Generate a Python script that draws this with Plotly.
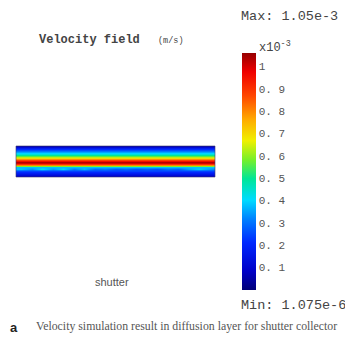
import plotly.graph_objects as go

# vertical velocity profile across the diffusion layer, top -> bottom (x1e-3 m/s)
profile_top_to_bottom = [0.06, 0.17, 0.26, 0.35, 0.44, 0.56, 0.70, 0.88, 1.03, 1.0, 0.80, 0.38, 0.33, 0.24, 0.18, 0.12, 0.05]
wiggle_row_index = 12
# lower-band velocity along the layer (left -> right)
lower_band = [0.38, 0.33, 0.41, 0.34, 0.40, 0.31, 0.37, 0.29, 0.31, 0.27, 0.29, 0.26, 0.28, 0.26, 0.30, 0.28, 0.35, 0.39, 0.34, 0.30]

tick_vals = [0.1, 0.2, 0.3, 0.4, 0.5, 0.6, 0.7, 0.8, 0.9, 1.0]
tick_text = ["0. 1", "0. 2", "0. 3", "0. 4", "0. 5", "0. 6", "0. 7", "0. 8", "0. 9", "1"]

ncol = len(lower_band)
nrow = len(profile_top_to_bottom)
z = []
for r, v in enumerate(profile_top_to_bottom):
    if r == wiggle_row_index:
        z.append(list(lower_band))
    else:
        z.append([v] * ncol)
z = z[::-1]  # bottom row first

colorscale = [
    [0.0, "rgb(0,0,120)"],
    [0.08, "rgb(0,0,200)"],
    [0.2, "rgb(0,40,255)"],
    [0.3, "rgb(0,130,255)"],
    [0.38, "rgb(0,220,255)"],
    [0.47, "rgb(0,230,150)"],
    [0.55, "rgb(120,240,40)"],
    [0.63, "rgb(240,240,0)"],
    [0.72, "rgb(255,170,0)"],
    [0.82, "rgb(255,70,0)"],
    [0.92, "rgb(240,0,0)"],
    [1.0, "rgb(150,0,0)"],
]

fig = go.Figure()
fig.add_trace(go.Heatmap(
    z=z, x=list(range(ncol)), y=list(range(nrow)),
    colorscale=colorscale, zmin=0.0, zmax=1.06, zsmooth="best",
    colorbar=dict(
        x=242 / 345, xanchor="left", xref="paper",
        y=1 - 171.5 / 337, yanchor="middle",
        lenmode="pixels", len=237, thickness=14,
        thicknessmode="pixels",
        tickvals=tick_vals, ticktext=tick_text, ticks="",
        tickfont=dict(family="Liberation Mono", size=11, color="#555"),
        outlinewidth=0, xpad=0, ypad=0,
    ),
))

fig.update_layout(
    width=345, height=337, margin=dict(l=0, r=0, t=0, b=0),
    paper_bgcolor="white", plot_bgcolor="white",
    xaxis=dict(domain=[16 / 345, 215 / 345], range=[-0.5, ncol - 1.5], visible=False),
    yaxis=dict(domain=[1 - 177 / 337, 1 - 146 / 337], range=[0, nrow - 1], visible=False),
    showlegend=False,
)

fig.add_shape(type="rect", xref="paper", yref="paper",
              x0=16 / 345, x1=215 / 345, y0=1 - 177 / 337, y1=1 - 146 / 337,
              line=dict(color="rgba(60,60,110,0.6)", width=1))

mono = "Liberation Mono"
def ann(text, x, y, size, family=mono, color="#444", xanchor="left"):
    fig.add_annotation(text=text, x=x / 345, y=1 - y / 337, xref="paper", yref="paper",
                       xanchor=xanchor, yanchor="middle", showarrow=False,
                       font=dict(family=family, size=size, color=color))

ann("Max: 1.05e-3", 239, 17, 13.5)
ann("<b>Velocity field</b>", 37, 40, 12)
ann("(m/s)", 156, 41, 8.5)
ann("x10<sup>-3</sup>", 257, 47, 12)
ann("Min: 1.075e-6", 239, 305, 13.5)
ann("shutter", 93, 282, 11, family="Liberation Sans", color="#555")
ann("<b>a</b>", 8, 327, 13, family="Liberation Sans", color="#222")
ann("Velocity simulation result in diffusion layer for shutter collector", 34, 326, 11.8,
    family="Liberation Serif", color="#555")

fig.write_html("out.html")
